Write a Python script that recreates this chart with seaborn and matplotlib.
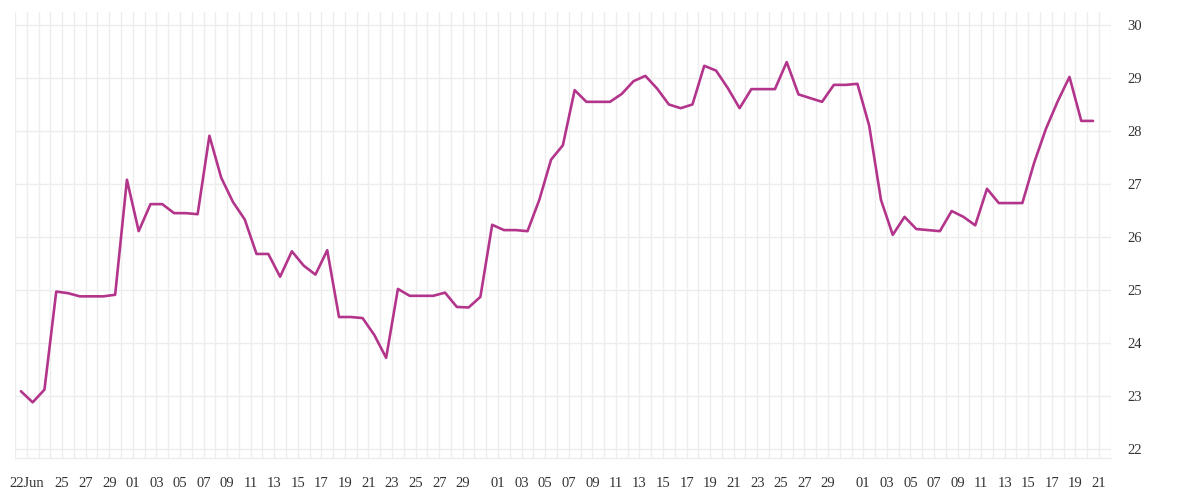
import numpy as np
import pandas as pd
import matplotlib
matplotlib.use("Agg")
import matplotlib.pyplot as plt
import seaborn as sns

# -----------------------------
# Data (one value per day)
# -----------------------------

start_day = "2023-06-21"
values = [
    23.09, 22.88, 23.12, 24.97, 24.94, 24.88, 24.88, 24.88, 24.91, 27.08,
    26.11, 26.62, 26.62, 26.45, 26.45, 26.43, 27.91, 27.12, 26.66, 26.33,
    25.68, 25.68, 25.25, 25.73, 25.46, 25.29, 25.75, 24.49, 24.49, 24.47,
    24.15, 23.72, 25.02, 24.89, 24.89, 24.89, 24.95, 24.68, 24.67, 24.87,
    26.23, 26.13, 26.13, 26.11, 26.70, 27.46, 27.73, 28.77, 28.55, 28.55,
    28.55, 28.70, 28.94, 29.04, 28.80, 28.50, 28.43, 28.50, 29.23, 29.14,
    28.81, 28.43, 28.79, 28.79, 28.79, 29.30, 28.69, 28.62, 28.55, 28.87,
    28.87, 28.89, 28.10, 26.70, 26.04, 26.38, 26.15, 26.13, 26.11, 26.49,
    26.38, 26.22, 26.91, 26.64, 26.64, 26.64, 27.40, 28.04, 28.56, 29.02,
    28.19, 28.19,
]
y_ticks = [22, 23, 24, 25, 26, 27, 28, 29, 30]
skip_labels = ["2023-06-23"]   # hidden because it would overlap "22Jun"

# points sit in the middle of each day
dates = pd.date_range(start_day, periods=len(values), freq="D") + pd.Timedelta(hours=12)
df = pd.DataFrame({"date": dates, "value": values})

# -----------------------------
# Plot
# -----------------------------

sns.set_theme(style="white")
plt.rcParams["font.family"] = ["Liberation Serif", "DejaVu Serif"]

fig = plt.figure(figsize=(12, 5), dpi=100)
ax = fig.add_axes([0.0125, 0.084, 0.9131, 0.892])

sns.lineplot(data=df, x="date", y="value", ax=ax, color="#b3358b", linewidth=1.9)

x_start = pd.Timestamp(start_day)
x_end = x_start + pd.Timedelta(days=len(values) + 1)
ax.set_xlim(x_start, x_end)
ax.set_ylim(21.83, 30.245)

# daily ticks / gridlines, labels on odd days
tick_days = pd.date_range(x_start, x_end, freq="D")
labels = []
for d in tick_days:
    if d == x_start + pd.Timedelta(days=1):
        labels.append(f"{d.day}{d.strftime('%b')}")
    elif d.day % 2 == 1 and d.day != 31 and d > x_start and d.strftime("%Y-%m-%d") not in skip_labels:
        labels.append(f"{d.day:02d}")
    else:
        labels.append("")
ax.set_xticks(tick_days)
ax.set_xticklabels(labels)

ax.set_yticks(y_ticks)
ax.set_yticklabels([str(v) for v in y_ticks])
ax.yaxis.tick_right()

ax.grid(True, color="#ededed", linewidth=1)
ax.set_axisbelow(True)
ax.set_xlabel("")
ax.set_ylabel("")

for side in ["top", "left", "right"]:
    ax.spines[side].set_visible(False)
ax.spines["bottom"].set_color("#ededed")
ax.spines["bottom"].set_linewidth(1)

ax.tick_params(axis="x", length=7, width=1, color="#ededed", pad=7,
               labelsize=10.5, labelcolor="#333333")
ax.tick_params(axis="y", length=0, pad=12, labelsize=10.5, labelcolor="#333333")

plt.savefig("out.png", dpi=100)
